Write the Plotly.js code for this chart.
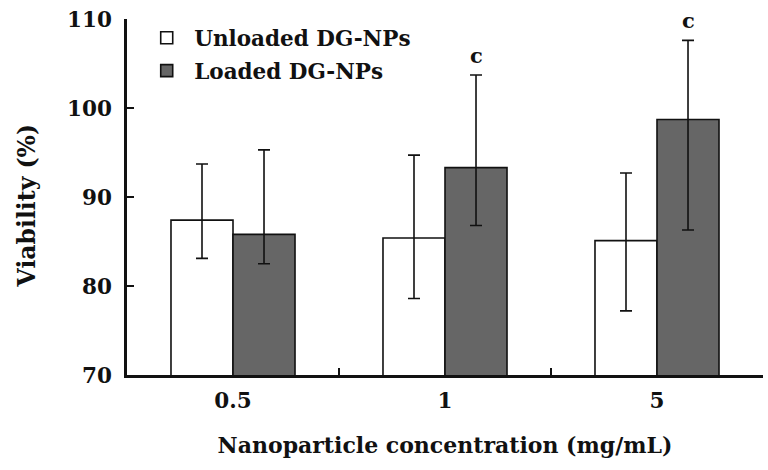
<!DOCTYPE html>
<html><head><meta charset="utf-8">
<script src="https://cdn.plot.ly/plotly-3.0.1.min.js"></script>
<style>body{margin:0;background:#fff}#c{width:768px;height:470px}</style>
</head><body><div id="c"></div>
<script>
const categories = ["0.5", "1", "5"];
const unloaded = [87.4, 85.4, 85.1];
const unloadedErrPlus = [6.3, 9.3, 7.6];
const unloadedErrMinus = [4.3, 6.8, 7.9];
const loaded = [85.8, 93.3, 98.7];
const loadedErrPlus = [9.5, 10.4, 8.9];
const loadedErrMinus = [3.3, 6.5, 12.4];
const sigLabels = ["", "c", "c"];

const fontFam = '"DejaVu Serif", "Liberation Serif", serif';
const errStyle = {type: 'data', symmetric: false, color: '#111', thickness: 1.6, width: 6};

const traces = [
  {type: 'bar', name: '<b>\u00a0Unloaded DG-NPs</b>', x: categories, y: unloaded, legendgroup: 'a',
   marker: {color: '#ffffff', line: {color: '#111', width: 1.6}},
   error_y: Object.assign({array: unloadedErrPlus, arrayminus: unloadedErrMinus}, errStyle)},
  {type: 'bar', name: '<b>\u00a0Loaded DG-NPs</b>', x: categories, y: loaded, legendgroup: 'b',
   marker: {color: '#666666', line: {color: '#111', width: 1.6}},
   error_y: Object.assign({array: loadedErrPlus, arrayminus: loadedErrMinus}, errStyle)}
];

const annotations = [];
categories.forEach((c, i) => {
  if (sigLabels[i]) {
    annotations.push({x: i, y: loaded[i] + loadedErrPlus[i], xref: 'x', yref: 'y',
      xshift: 31, yshift: 5, yanchor: 'bottom', showarrow: false, text: '<b>' + sigLabels[i] + '</b>',
      font: {family: fontFam, size: 21, color: '#111'}});
  }
});

const layout = {
  width: 768, height: 470,
  margin: {l: 127, r: 5, t: 19, b: 95},
  paper_bgcolor: '#fff', plot_bgcolor: '#fff',
  font: {family: fontFam, color: '#111'},
  barmode: 'group', bargap: 0.415, bargroupgap: 0,
  showlegend: true,
  legend: {x: 0.031, y: 1.005, xanchor: 'left', yanchor: 'top', bgcolor: 'rgba(0,0,0,0)',
    font: {family: fontFam, size: 21.5, color: '#111'}, tracegroupgap: 2, itemwidth: 30},
  xaxis: {type: 'category', range: [-0.5, 2.5], showgrid: false, zeroline: false,
    showline: true, linecolor: '#111', linewidth: 2.8, automargin: true,
    ticks: 'inside', tickson: 'boundaries', ticklen: 7, tickwidth: 2.8, tickcolor: '#111',
    ticklabelstandoff: 4,
    tickfont: {family: fontFam, size: 21.5, color: '#111'},
    tickprefix: '<b>', ticksuffix: '</b>',
    title: {text: '<b>Nanoparticle concentration (mg/mL)</b>', font: {family: fontFam, size: 22, color: '#111'}, standoff: 26}},
  yaxis: {range: [70, 110], dtick: 10, showgrid: false, zeroline: false,
    showline: true, linecolor: '#111', linewidth: 2.8, automargin: true,
    ticks: 'inside', ticklen: 7, tickwidth: 2.8, tickcolor: '#111',
    ticklabelstandoff: 8,
    tickfont: {family: fontFam, size: 21.5, color: '#111'},
    tickprefix: '<b>', ticksuffix: '</b>',
    title: {text: '<b>Viability (%)&nbsp;&nbsp;</b>', font: {family: fontFam, size: 23.5, color: '#111'}, standoff: 25}},
  annotations: annotations
};

Plotly.newPlot('c', traces, layout, {displayModeBar: false, staticPlot: true});
</script></body></html>
